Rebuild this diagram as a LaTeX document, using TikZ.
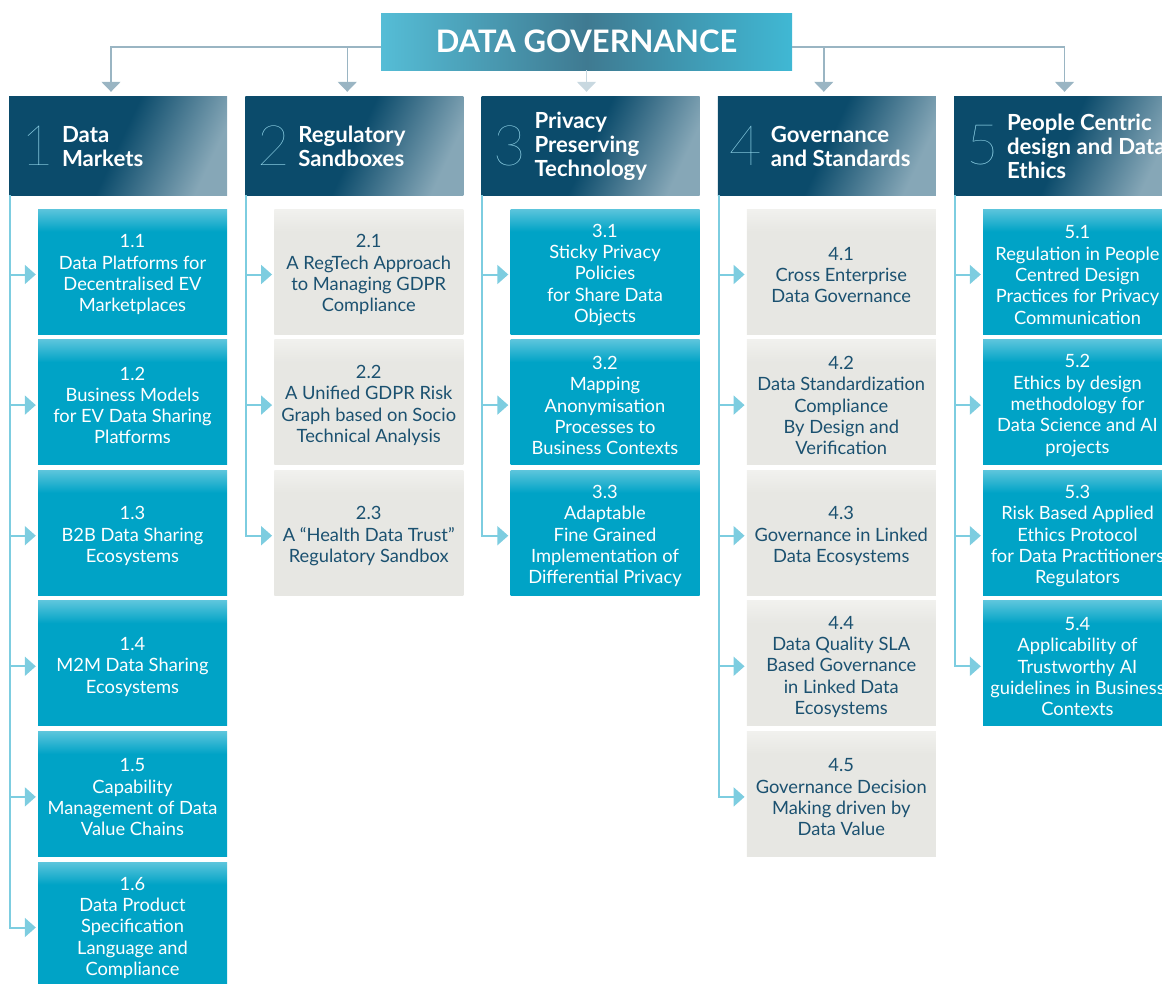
\documentclass[tikz,border=0pt]{standalone}
\usepackage{fontspec}
\setmainfont{Lato}
\newfontfamily\numfont{Lato Thin}
\usetikzlibrary{arrows.meta,positioning}

\definecolor{hdrdark}{HTML}{0B4B6B}
\definecolor{hdrlight}{HTML}{86A7B7}
\definecolor{ttlside}{HTML}{55BDD6}
\definecolor{ttlmid}{HTML}{3F7A91}
\definecolor{ttlside2}{HTML}{40B8D4}
\definecolor{boxblue}{HTML}{00A3C6}
\definecolor{bluetop}{HTML}{5CC5DC}
\definecolor{boxgray}{HTML}{E7E7E3}
\definecolor{graytop}{HTML}{F1F1EE}
\definecolor{graytext}{HTML}{1B5170}
\definecolor{numcol}{HTML}{96DAEE}
\definecolor{topcol}{HTML}{9AB5C3}
\definecolor{topfaint}{HTML}{C8D8E0}
\definecolor{sidecol}{HTML}{7DCDE0}

\pgfdeclarehorizontalshading{hdrshade}{100bp}{color(0bp)=(hdrdark); color(50bp)=(hdrdark); color(75bp)=(hdrlight); color(100bp)=(hdrlight)}
\pgfdeclarehorizontalshading{titleshade}{100bp}{color(0bp)=(ttlside); color(25bp)=(ttlside); color(50bp)=(ttlmid); color(75bp)=(ttlside2); color(100bp)=(ttlside2)}
\pgfdeclareverticalshading{blueshade}{100bp}{color(0bp)=(boxblue); color(66bp)=(boxblue); color(75bp)=(bluetop); color(100bp)=(bluetop)}
\pgfdeclareverticalshading{grayshade}{100bp}{color(0bp)=(boxgray); color(66bp)=(boxgray); color(75bp)=(graytop); color(100bp)=(graytop)}

\newcommand{\boxtop}{\rule{0pt}{20pt}}

\tikzset{
  ttl/.style={shade, shading=titleshade, text=white, font=\fontsize{31}{34}\selectfont\bfseries, minimum width=411pt, minimum height=57pt, inner sep=0pt},
  hdr/.style={shade, shading=hdrshade, shading angle=-25, minimum width=218pt, minimum height=99pt, inner sep=0pt},
  hnum/.style={text=numcol, font=\numfont\fontsize{56}{56}\selectfont, inner sep=0pt, anchor=west},
  htxt/.style={text=white, font=\fontsize{22.2}{24}\selectfont\bfseries, align=left, inner sep=0pt, anchor=west},
  sub/.style={minimum width=189pt, minimum height=125pt, inner sep=0pt, align=center, font=\fontsize{18.3}{21.3}\selectfont},
  bluebox/.style={sub, shade, shading=blueshade, text=white},
  graybox/.style={sub, shade, shading=grayshade, text=graytext},
  toparr/.style={draw=topcol, line width=1.5pt, -{Triangle[length=10pt,width=19pt]}},
  sidearr/.style={draw=sidecol, line width=2pt, -{Triangle[length=11pt,width=19pt]}, shorten >=2pt}
}

\begin{document}
\begin{tikzpicture}[x=1pt,y=-1pt]
\pgfmathsetmacro{\colw}{236.25}
\pgfmathsetmacro{\rowh}{130.6}
\path[clip] (0,0) rectangle (1162,983);
% title
\node[ttl] (title) at (586.5,41.5) {DATA GOVERNANCE};
% column heads
\foreach \c/\hd in {1/{Data\\Markets},2/{Regulatory\\Sandboxes},3/{Privacy\\Preserving\\Technology},4/{Governance\\and Standards},5/{People Centric\\design and Data\\Ethics}}{
  \pgfmathsetmacro{\xl}{9+(\c-1)*\colw}
  \node[hdr] (h\c) at ({\xl+109},145.5) {};
  \node[hnum] (n\c) at ([xshift=12pt]h\c.west) {\c};
  \node[htxt] (t\c) at ([xshift=53pt,yshift=-1pt]h\c.west) {\hd};
}
% title to heads
\draw[toparr] ([yshift=-5.5pt]title.west) -| ([xshift=-7pt,yshift=4pt]h1.north);
\draw[toparr] ([yshift=-5.5pt]title.west) -| ([xshift=-7pt,yshift=4pt]h2.north);
\draw[toparr, draw=topfaint] (title.south) -- ([yshift=4pt]title.south |- h3.north);
\draw[toparr] ([yshift=-5.5pt]title.east) -| ([xshift=-3pt,yshift=4pt]h4.north);
\draw[toparr] ([yshift=-5.5pt]title.east) -| ([xshift=1.5pt,yshift=4pt]h5.north);

% column 1
\pgfmathsetmacro{\xb}{9+123.5}
\foreach \t [count=\r] in {{1.1\\Data Platforms for\\Decentralised EV\\Marketplaces},{1.2\\Business Models\\for EV Data Sharing\\Platforms},{1.3\\B2B Data Sharing\\Ecosystems},{1.4\\M2M Data Sharing\\Ecosystems},{1.5\\Capability\\Management of Data\\Value Chains},{1.6\\Data Product\\Specification\\Language and\\Compliance}}{
  \node[bluebox] (b1-\r) at ({\xb},{209+(\r-1)*\rowh+62.5}) {\boxtop\t};
  \draw[sidearr] ([xshift=1pt]h1.south west) |- ([yshift=-3pt]b1-\r.west);
}
% column 2
\pgfmathsetmacro{\xb}{9+\colw+123.5}
\foreach \t [count=\r] in {{2.1\\A RegTech Approach\\to Managing GDPR\\Compliance},{2.2\\A Unified GDPR Risk\\Graph based on Socio\\Technical Analysis},{2.3\\A “Health Data Trust”\\Regulatory Sandbox}}{
  \node[graybox] (b2-\r) at ({\xb},{209+(\r-1)*\rowh+62.5}) {\boxtop\t};
  \draw[sidearr] ([xshift=1pt]h2.south west) |- ([yshift=-3pt]b2-\r.west);
}
% column 3
\pgfmathsetmacro{\xb}{9+2*\colw+123.5}
\foreach \t [count=\r] in {{3.1\\Sticky Privacy\\Policies\\for Share Data\\Objects},{3.2\\Mapping\\Anonymisation\\Processes to\\Business Contexts},{3.3\\Adaptable\\Fine Grained\\Implementation of\\Differential Privacy}}{
  \node[bluebox] (b3-\r) at ({\xb},{209+(\r-1)*\rowh+62.5}) {\boxtop\t};
  \draw[sidearr] ([xshift=1pt]h3.south west) |- ([yshift=-3pt]b3-\r.west);
}
% column 4
\pgfmathsetmacro{\xb}{9+3*\colw+123.5}
\foreach \t [count=\r] in {{4.1\\Cross Enterprise\\Data Governance},{4.2\\Data Standardization\\Compliance\\By Design and\\Verification},{4.3\\Governance in Linked\\Data Ecosystems},{4.4\\Data Quality SLA\\Based Governance\\in Linked Data\\Ecosystems},{4.5\\Governance Decision\\Making driven by\\Data Value}}{
  \node[graybox] (b4-\r) at ({\xb},{209+(\r-1)*\rowh+62.5}) {\boxtop\t};
  \draw[sidearr] ([xshift=1pt]h4.south west) |- ([yshift=-3pt]b4-\r.west);
}
% column 5
\pgfmathsetmacro{\xb}{9+4*\colw+123.5}
\foreach \t [count=\r] in {{5.1\\Regulation in People\\Centred Design\\Practices for Privacy\\Communication},{5.2\\Ethics by design\\methodology for\\Data Science and AI\\projects},{5.3\\Risk Based Applied\\Ethics Protocol\\for Data Practitioners\\Regulators},{5.4\\Applicability of\\Trustworthy AI\\guidelines in Business\\Contexts}}{
  \node[bluebox] (b5-\r) at ({\xb},{209+(\r-1)*\rowh+62.5}) {\boxtop\t};
  \draw[sidearr] ([xshift=1pt]h5.south west) |- ([yshift=-3pt]b5-\r.west);
}
\end{tikzpicture}
\end{document}
